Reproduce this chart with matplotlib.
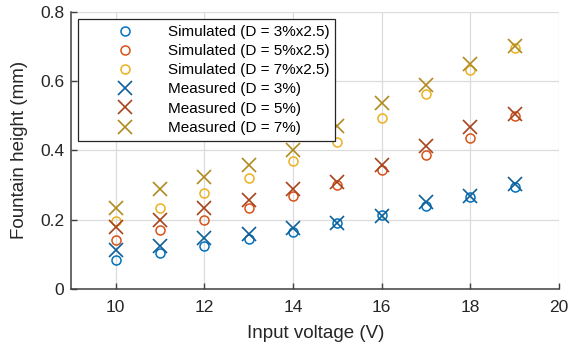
import matplotlib.pyplot as plt

plt.rcParams['font.family'] = ['Liberation Sans', 'DejaVu Sans']

voltage = [10, 11, 12, 13, 14, 15, 16, 17, 18, 19]

sim_d3 = [0.084, 0.104, 0.124, 0.144, 0.165, 0.190, 0.213, 0.240, 0.265, 0.295]
sim_d5 = [0.141, 0.170, 0.200, 0.234, 0.268, 0.300, 0.343, 0.387, 0.436, 0.500]
sim_d7 = [0.195, 0.233, 0.277, 0.320, 0.369, 0.424, 0.493, 0.563, 0.632, 0.697]

meas_d3 = [0.113, 0.124, 0.147, 0.159, 0.176, 0.190, 0.211, 0.251, 0.268, 0.303]
meas_d5 = [0.179, 0.200, 0.234, 0.257, 0.290, 0.310, 0.358, 0.413, 0.467, 0.505]
meas_d7 = [0.234, 0.290, 0.323, 0.358, 0.401, 0.470, 0.537, 0.589, 0.650, 0.701]

sim_colors = ['#0072BD', '#D95319', '#EDB120']
meas_colors = ['#0F5F98', '#A8441C', '#B08C20']

fig = plt.figure(figsize=(5.8, 3.49), dpi=100)
ax = fig.add_axes([0.123, 0.172, 0.841, 0.794])

for vals, c, lab in zip([sim_d3, sim_d5, sim_d7], sim_colors,
                        ['Simulated (D = 3%x2.5)', 'Simulated (D = 5%x2.5)',
                         'Simulated (D = 7%x2.5)']):
    ax.plot(voltage, vals, 'o', ms=6.5, mfc='none', mec=c, mew=1.1,
            label=lab, linestyle='none')
for vals, c, lab in zip([meas_d3, meas_d5, meas_d7], meas_colors,
                        ['Measured (D = 3%)', 'Measured (D = 5%)',
                         'Measured (D = 7%)']):
    ax.plot(voltage, vals, 'x', ms=9.5, mec=c, mew=1.2, label=lab,
            linestyle='none')

ax.set_xlim(9, 20)
ax.set_ylim(0, 0.8)
ax.set_xticks([10, 12, 14, 16, 18, 20])
ax.set_yticks([0, 0.2, 0.4, 0.6, 0.8])
ax.set_yticklabels(['0', '0.2', '0.4', '0.6', '0.8'])
ax.grid(True, color='#dcdcdc', linewidth=0.9)
ax.set_axisbelow(True)
ax.tick_params(direction='in', labelsize=12.5, length=4, width=1.0,
               colors='#404040', labelcolor='#262626')
ax.tick_params(axis='x', pad=8)
ax.tick_params(axis='y', pad=5)
for s in ['top', 'right']:
    ax.spines[s].set_visible(False)
for s in ['left', 'bottom']:
    ax.spines[s].set_color('#404040')
    ax.spines[s].set_linewidth(1.1)

ax.set_xlabel('Input voltage (V)', fontsize=13.5, color='#262626', labelpad=7)
ax.set_ylabel('Fountain height (mm)', fontsize=13.5, color='#262626', labelpad=9)

leg = ax.legend(loc='upper left', bbox_to_anchor=(0.0143, 0.975), fontsize=11,
                frameon=True, fancybox=False, handlelength=5.3,
                handletextpad=0.15, labelspacing=0.34, borderpad=0.4,
                borderaxespad=0)
leg.get_frame().set_edgecolor('#262626')
leg.get_frame().set_linewidth(0.9)
leg.get_frame().set_alpha(1)

fig.savefig('out.png', dpi=100)
